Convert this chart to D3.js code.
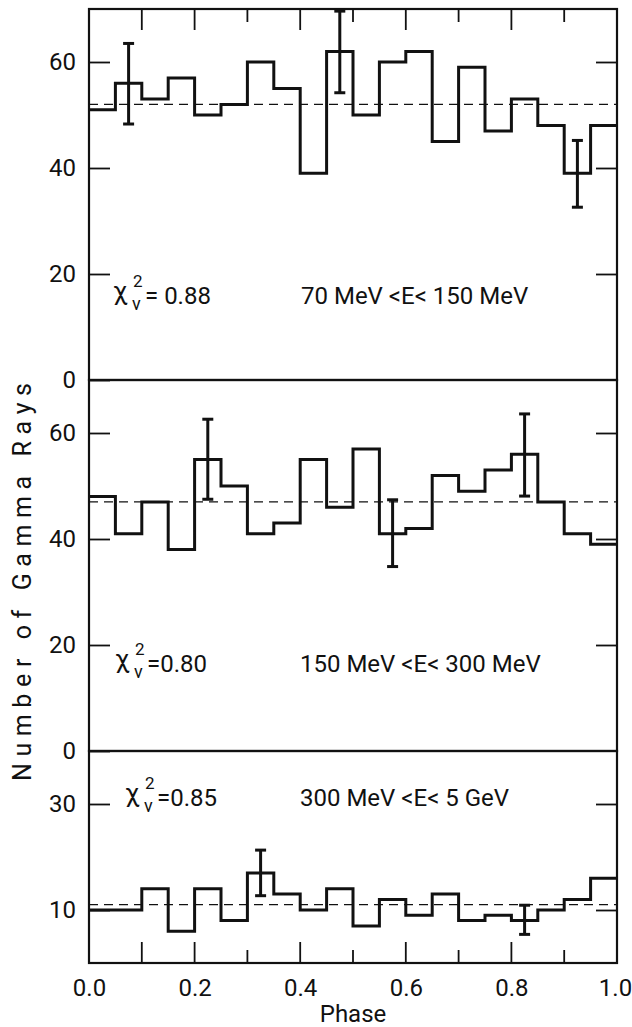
<!DOCTYPE html>
<html>
<head>
<meta charset="utf-8">
<script src="https://cdn.jsdelivr.net/npm/d3@7"></script>
<style>
  body { margin: 0; background: #fff; }
  text { font-family: Roboto, 'DejaVu Sans', sans-serif; fill: #111; }
</style>
</head>
<body>
<svg id="chart" width="632" height="1027"></svg>
<script>
// bin edges in phase (20 bins)
const binEdges = [0, 0.05, 0.1, 0.15, 0.2, 0.25, 0.3, 0.35, 0.4, 0.45, 0.5,
                  0.55, 0.6, 0.65, 0.7, 0.75, 0.8, 0.85, 0.9, 0.95, 1.0];

// counts per bin
const counts70  = [51, 56, 53, 57, 50, 52, 60, 55, 39, 62, 50, 60, 62, 45, 59, 47, 53, 48, 39, 48];
const counts150 = [48, 41, 47, 38, 55, 50, 41, 43, 55, 46, 57, 41, 42, 52, 49, 53, 56, 47, 41, 39];
const counts300 = [10, 10, 14, 6, 14, 8, 17, 13, 10, 14, 7, 12, 9, 13, 8, 9, 8, 10, 12, 16];

// mean level (dashed line)
const means = [52, 47, 11];

// error bars: phase, low, high
const errors70  = [[0.075, 48.3, 63.5], [0.475, 54.2, 69.6], [0.925, 32.6, 45.2]];
const errors150 = [[0.225, 47.5, 62.6], [0.575, 34.8, 47.4], [0.825, 48.1, 63.6]];
const errors300 = [[0.325, 12.7, 21.3], [0.825, 5.4, 10.9]];

// y ticks per panel
const yTicks70  = [0, 20, 40, 60];
const yTicks150 = [0, 20, 40, 60];
const yTicks300 = [10, 30];

// x ticks
const xLabels    = [0, 0.2, 0.4, 0.6, 0.8, 1.0];
const xTicks     = [0.1, 0.2, 0.3, 0.4, 0.5, 0.6, 0.7, 0.8, 0.9];
const xTicksLong = [0.1, 0.2, 0.4, 0.6, 0.8];

// annotations
const chiValues = ['0.88', '0.80', '0.85'];
const energyLabels = ['70 MeV <E< 150 MeV', '150 MeV <E< 300 MeV', '300 MeV <E< 5 GeV'];


const svg = d3.select('#chart');

const x = d3.scaleLinear().domain([0, 1]).range([89, 617]);

const panels =
  [
    { counts: counts70,  mean: means[0], errors: errors70,  ticks: yTicks70,  y: d3.scaleLinear().domain([0, 70]).range([380, 9]),
      chi: chiValues[0], energy: energyLabels[0], chiX: 113, energyX: 301, textY: 304 },
    { counts: counts150, mean: means[1], errors: errors150, ticks: yTicks150, y: d3.scaleLinear().domain([0, 70]).range([751, 380]),
      chi: chiValues[1], energy: energyLabels[1], chiX: 115, energyX: 300, textY: 672 },
    { counts: counts300, mean: means[2], errors: errors300, ticks: yTicks300, y: d3.scaleLinear().domain([0, 40]).range([963, 751]),
      chi: chiValues[2], energy: energyLabels[2], chiX: 125, energyX: 300, textY: 806 }
  ];

const step = d3.line()
  .x(d => x(d[0]))
  .y(d => d[1])
  .curve(d3.curveStepAfter)
;

panels.forEach((p, k) =>
{
  const g = svg.append('g');
  const y = p.y;
  const [y0, y1] = y.range();

  // frame
  g.append('rect')
    .attr('x', x(0))
    .attr('y', y1)
    .attr('width', x(1) - x(0))
    .attr('height', y0 - y1)
    .attr('fill', 'none')
    .attr('stroke', '#111')
    .attr('stroke-width', 2.2)
  ;

  // left axis, ticks inward
  const left = g.append('g')
    .attr('transform', `translate(${ x(0) },0)`)
    .call(d3.axisLeft(y).tickValues(p.ticks).tickSize(-21).tickPadding(13).tickFormat(d3.format('d')))
  ;
  left.select('.domain').remove();
  left.selectAll('line').attr('stroke', '#111').attr('stroke-width', 1.8);
  left.selectAll('text').attr('font-size', 24).attr('fill', '#111').attr('font-family', 'Roboto, sans-serif');

  // right axis ticks
  const right = g.append('g')
    .attr('transform', `translate(${ x(1) },0)`)
    .call(d3.axisRight(y).tickValues(p.ticks.filter(v => v > 0)).tickSize(-21).tickFormat(''))
  ;
  right.select('.domain').remove();
  right.selectAll('line').attr('stroke', '#111').attr('stroke-width', 1.8);

  // mean (dashed)
  g.append('line')
    .attr('x1', x(0))
    .attr('x2', x(1))
    .attr('y1', y(p.mean))
    .attr('y2', y(p.mean))
    .attr('stroke', '#111')
    .attr('stroke-width', 1.3)
    .attr('stroke-dasharray', '9 6')
  ;

  // histogram
  const pts = p.counts.map((c, i) => [binEdges[i], y(c)]);
  pts.push([binEdges[binEdges.length - 1], y(p.counts[p.counts.length - 1])]);

  g.append('path')
    .attr('d', step(pts))
    .attr('fill', 'none')
    .attr('stroke', '#111')
    .attr('stroke-width', 3)
  ;

  // error bars
  const eb = g.selectAll('.err')
    .data(p.errors)
    .join('g')
    .attr('class', 'err')
  ;

  eb.append('line')
    .attr('x1', d => x(d[0]))
    .attr('x2', d => x(d[0]))
    .attr('y1', d => y(d[1]))
    .attr('y2', d => y(d[2]))
    .attr('stroke', '#111')
    .attr('stroke-width', 3)
  ;

  eb.selectAll('.cap')
    .data(d => [[d[0], d[1]], [d[0], d[2]]])
    .join('line')
    .attr('class', 'cap')
    .attr('x1', d => x(d[0]) - 5.5)
    .attr('x2', d => x(d[0]) + 5.5)
    .attr('y1', d => y(d[1]))
    .attr('y2', d => y(d[1]))
    .attr('stroke', '#111')
    .attr('stroke-width', 3)
  ;

  // chi-square annotation
  g.append('text')
    .text('χ')
    .attr('x', p.chiX)
    .attr('y', p.textY - 4)
    .attr('font-size', 26)
  ;
  g.append('text')
    .text('2')
    .attr('x', p.chiX + 20)
    .attr('y', p.textY - 17)
    .attr('font-size', 17)
  ;
  g.append('text')
    .text('v')
    .attr('x', p.chiX + 19)
    .attr('y', p.textY + 6)
    .attr('font-size', 18)
  ;
  g.append('text')
    .text(`=${ k === 0 ? ' ' : '' }${ p.chi }`)
    .attr('x', p.chiX + 32)
    .attr('y', p.textY)
    .attr('font-size', 24)
  ;

  // energy range
  g.append('text')
    .text(p.energy)
    .attr('x', p.energyX)
    .attr('y', p.textY)
    .attr('font-size', 24)
  ;
});

// x ticks: top of first panel and bottom of last
const yTop = panels[0].y.range()[1];
const yBot = panels[2].y.range()[0];

svg.append('g')
  .selectAll('line')
  .data(xTicks)
  .join('line')
  .attr('x1', d => x(d))
  .attr('x2', d => x(d))
  .attr('y1', yTop)
  .attr('y2', d => yTop + (xTicksLong.includes(d) ? 21 : 13))
  .attr('stroke', '#111')
  .attr('stroke-width', 1.8)
;

svg.append('g')
  .selectAll('line')
  .data(xTicks)
  .join('line')
  .attr('x1', d => x(d))
  .attr('x2', d => x(d))
  .attr('y1', yBot)
  .attr('y2', d => yBot - (xTicksLong.includes(d) ? 21 : 13))
  .attr('stroke', '#111')
  .attr('stroke-width', 1.8)
;

const bottom = svg.append('g')
  .attr('transform', `translate(0,${ yBot })`)
  .call(d3.axisBottom(x).tickValues(xLabels).tickSize(0).tickPadding(16).tickFormat(d3.format('.1f')))
;
bottom.select('.domain').remove();
bottom.selectAll('text')
  .attr('font-size', 24)
  .attr('fill', '#111')
  .attr('font-family', 'Roboto, sans-serif')
  .attr('dx', d => d === 1 ? -2 : 0)
;

// axis titles
svg.append('text')
  .text('Phase')
  .attr('x', 353)
  .attr('y', 1022)
  .attr('text-anchor', 'middle')
  .attr('font-size', 24)
;

svg.append('text')
  .text('Number of Gamma Rays')
  .attr('transform', 'translate(31,582) rotate(-90)')
  .attr('text-anchor', 'middle')
  .attr('font-size', 25)
  .attr('textLength', 398)
  .attr('lengthAdjust', 'spacing')
;
</script>
</body>
</html>
